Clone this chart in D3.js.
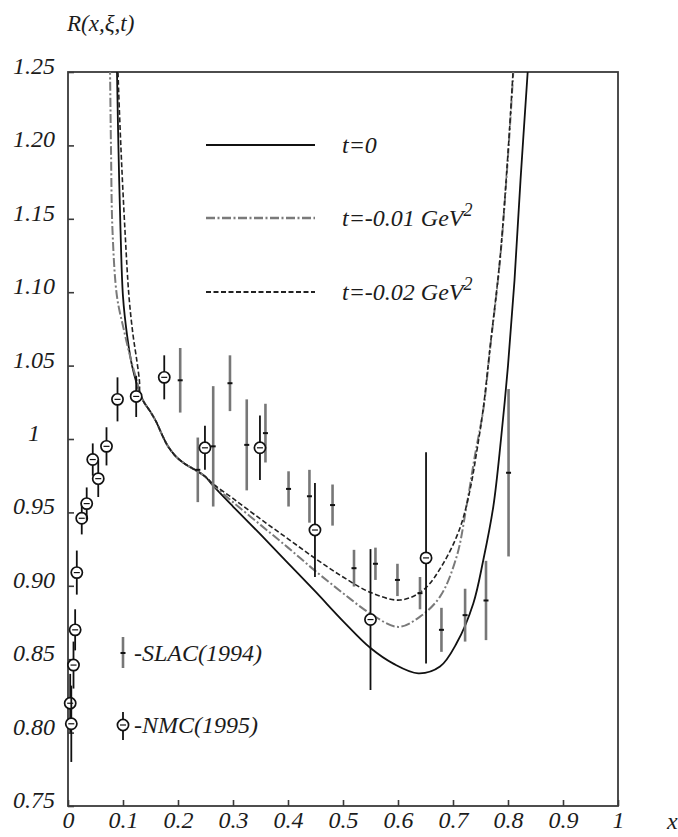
<!DOCTYPE html>
<html>
<head>
<meta charset="utf-8">
<script src="https://cdn.jsdelivr.net/npm/d3@7"></script>
<style>
  html, body { margin: 0; padding: 0; background: #fff; }
  text { font-family: "Liberation Serif", "DejaVu Serif", serif; font-style: italic; fill: #1c1c1c; }
</style>
</head>
<body>
<svg id="chart" width="678" height="837"></svg>
<script>
// ---- axis ticks ----
const xTicks = [0, 0.1, 0.2, 0.3, 0.4, 0.5, 0.6, 0.7, 0.8, 0.9, 1];
const xTickLabels = ["0", "0.1", "0.2", "0.3", "0.4", "0.5", "0.6", "0.7", "0.8", "0.9", "1"];
const yTicks = [0.75, 0.80, 0.85, 0.90, 0.95, 1.00, 1.05, 1.10, 1.15, 1.20, 1.25];
const yTickLabels = ["0.75", "0.80", "0.85", "0.90", "0.95", "1", "1.05", "1.10", "1.15", "1.20", "1.25"];

// ---- SLAC (1994) data: x, ratio, error ----
const slacX   = [0.204, 0.236, 0.264, 0.2945, 0.325, 0.359, 0.401, 0.439, 0.481, 0.520, 0.559, 0.599, 0.640, 0.679, 0.722, 0.760, 0.801];
const slacR   = [1.040, 0.979, 0.995, 1.038, 0.996, 1.004, 0.966, 0.961, 0.955, 0.912, 0.915, 0.904, 0.895, 0.870, 0.880, 0.890, 0.977];
const slacErr = [0.022, 0.022, 0.041, 0.019, 0.031, 0.020, 0.012, 0.018, 0.014, 0.0125, 0.011, 0.011, 0.011, 0.015, 0.018, 0.027, 0.057];

// ---- NMC (1995) data: x, ratio, error ----
const nmcX   = [0.004, 0.006, 0.010, 0.013, 0.016, 0.025, 0.034, 0.045, 0.055, 0.070, 0.090, 0.124, 0.175, 0.249, 0.349, 0.449, 0.550, 0.651];
const nmcR   = [0.820, 0.806, 0.846, 0.870, 0.909, 0.946, 0.956, 0.986, 0.973, 0.995, 1.027, 1.029, 1.042, 0.994, 0.994, 0.938, 0.877, 0.919];
const nmcErr = [0.020, 0.026, 0.016, 0.014, 0.015, 0.011, 0.011, 0.011, 0.0125, 0.013, 0.015, 0.014, 0.015, 0.015, 0.022, 0.032, 0.048, 0.072];

// ---- model curves R(x, xi, t) ----
const curveT0 = [
  [0.0887, 1.265], [0.0891, 1.250], [0.0918, 1.197], [0.0955, 1.142], [0.1000, 1.097],
  [0.1073, 1.071], [0.1164, 1.050], [0.1255, 1.037],
  [0.1309, 1.031], [0.1382, 1.025], [0.1491, 1.019], [0.1600, 1.012], [0.1709, 1.003],
  [0.1818, 0.995], [0.1964, 0.988], [0.2127, 0.983], [0.2309, 0.979], [0.2491, 0.9745],
  [0.2642, 0.968], [0.30, 0.954], [0.35, 0.935], [0.40, 0.9155], [0.45, 0.896], [0.50, 0.876],
  [0.55, 0.8576], [0.5915, 0.847], [0.6369, 0.8404], [0.6764, 0.845], [0.7067, 0.861],
  [0.7369, 0.888], [0.7551, 0.9176], [0.7733, 0.954], [0.7873, 1.000], [0.800, 1.050],
  [0.8118, 1.108], [0.8227, 1.176], [0.8358, 1.250], [0.8382, 1.265]
];
const curveT001 = [
  [0.0755, 1.265], [0.0764, 1.250], [0.0782, 1.197], [0.0809, 1.142], [0.0891, 1.097],
  [0.1018, 1.074], [0.1145, 1.054], [0.1255, 1.039],
  [0.1309, 1.031], [0.1382, 1.025], [0.1491, 1.019], [0.1600, 1.012], [0.1709, 1.003],
  [0.1818, 0.995], [0.1964, 0.988], [0.2127, 0.983], [0.2309, 0.979], [0.2491, 0.9745],
  [0.2642, 0.9687], [0.30, 0.957], [0.35, 0.9415], [0.40, 0.926], [0.45, 0.910], [0.50, 0.895],
  [0.55, 0.881], [0.6005, 0.872], [0.640, 0.879], [0.6764, 0.8926], [0.7067, 0.920],
  [0.7249, 0.955], [0.740, 0.989], [0.7551, 1.020], [0.7673, 1.061], [0.7855, 1.122],
  [0.7982, 1.183], [0.8096, 1.250], [0.8118, 1.265]
];
const curveT002 = [
  [0.0900, 1.265], [0.0909, 1.250], [0.0964, 1.197], [0.1036, 1.142], [0.1109, 1.097],
  [0.1182, 1.071], [0.1255, 1.0525], [0.1300, 1.039],
  [0.1309, 1.031], [0.1382, 1.025], [0.1491, 1.019], [0.1600, 1.012], [0.1709, 1.003],
  [0.1818, 0.995], [0.1964, 0.988], [0.2127, 0.983], [0.2309, 0.979], [0.2491, 0.9745],
  [0.2642, 0.9693], [0.30, 0.9595], [0.35, 0.9455], [0.40, 0.932], [0.45, 0.9185], [0.50, 0.906],
  [0.55, 0.8955], [0.6036, 0.8903], [0.646, 0.8971], [0.6824, 0.9153], [0.7127, 0.9394],
  [0.7309, 0.9653], [0.7436, 0.9925], [0.7551, 1.021], [0.7673, 1.062], [0.7855, 1.123],
  [0.7982, 1.185], [0.8091, 1.250], [0.8109, 1.265]
];

const legendLabels = ["t=0", "t=-0.01 GeV", "t=-0.02 GeV"];
const legendSup = ["", "2", "2"];

// ---- layout ----
const W = 678, H = 837;
const plot = { left: 68, right: 618, top: 72, bottom: 806 };

const svg = d3.select("#chart");
svg.append("rect").attr("width", W).attr("height", H).attr("fill", "#fff");

const x = d3.scaleLinear().domain([0, 1]).range([plot.left, plot.right]);
const y = d3.scaleLinear().domain([0.75, 1.25]).range([plot.bottom, plot.top]);

svg.append("defs").append("clipPath").attr("id", "plotClip")
  .append("rect").attr("x", plot.left).attr("y", plot.top)
  .attr("width", plot.right - plot.left).attr("height", plot.bottom - plot.top);

// axes with inward ticks
const xAxis = d3.axisBottom(x).tickValues(xTicks).tickFormat((d, i) => xTickLabels[i])
  .tickSizeInner(-6).tickSizeOuter(0);
const yAxis = d3.axisLeft(y).tickValues(yTicks).tickFormat((d, i) => yTickLabels[i])
  .tickSizeInner(-6).tickSizeOuter(0);

const gx = svg.append("g").attr("transform", `translate(0,${plot.bottom})`).call(xAxis);
const gy = svg.append("g").attr("transform", `translate(${plot.left},0)`).call(yAxis);
[gx, gy].forEach(g => {
  g.select(".domain").remove();
  g.selectAll(".tick line").attr("stroke", "#3a3a3a").attr("stroke-width", 1.6);
  g.selectAll(".tick text").attr("font-family", null).attr("font-size", 24).attr("fill", "#1c1c1c");
});
gx.selectAll(".tick text").attr("y", 14).attr("dy", "0.35em").attr("text-anchor", "middle");
gy.selectAll(".tick text").attr("x", -34).attr("y", -7).attr("dy", "0.35em").attr("text-anchor", "middle");

// frame
svg.append("rect")
  .attr("x", plot.left).attr("y", plot.top)
  .attr("width", plot.right - plot.left).attr("height", plot.bottom - plot.top)
  .attr("fill", "none").attr("stroke", "#3a3a3a").attr("stroke-width", 1.8);

// titles
svg.append("text").attr("x", 67).attr("y", 31).attr("font-size", 23).text("R(x,ξ,t)");
svg.append("text").attr("x", 667).attr("y", 829).attr("font-size", 24).text("x");

// curves
const line = d3.line().x(d => x(d[0])).y(d => y(d[1])).curve(d3.curveCatmullRom.alpha(0.5));
const styles = [
  { data: curveT0,   stroke: "#111", width: 1.8, dash: null },
  { data: curveT001, stroke: "#7a7a7a", width: 2.0, dash: "9,2.5,2,2.5" },
  { data: curveT002, stroke: "#222", width: 1.6, dash: "5,2.5" }
];
const gCurves = svg.append("g").attr("clip-path", "url(#plotClip)");
styles.forEach(s => {
  gCurves.append("path").attr("d", line(s.data))
    .attr("fill", "none").attr("stroke", s.stroke).attr("stroke-width", s.width)
    .attr("stroke-dasharray", s.dash);
});

// curve legend
const legY = [145, 218, 292];
styles.forEach((s, i) => {
  svg.append("line").attr("x1", 206).attr("x2", 315).attr("y1", legY[i]).attr("y2", legY[i])
    .attr("stroke", s.stroke).attr("stroke-width", s.width + 0.3).attr("stroke-dasharray", s.dash);
  const t = svg.append("text").attr("x", 342).attr("y", legY[i] + 8).attr("font-size", 24);
  t.append("tspan").text(legendLabels[i]);
  if (legendSup[i]) t.append("tspan").attr("dy", -10).attr("font-size", 18).text(legendSup[i]);
});

// SLAC markers
function slacMarker(g, cx, cy, top, bot) {
  g.append("line").attr("x1", cx).attr("x2", cx).attr("y1", top).attr("y2", bot)
    .attr("stroke", "#777").attr("stroke-width", 2.6);
  g.append("line").attr("x1", cx - 2.5).attr("x2", cx + 2.5).attr("y1", cy).attr("y2", cy)
    .attr("stroke", "#111").attr("stroke-width", 2);
}
// NMC markers
function nmcMarker(g, cx, cy, top, bot) {
  g.append("line").attr("x1", cx).attr("x2", cx).attr("y1", top).attr("y2", bot)
    .attr("stroke", "#111").attr("stroke-width", 1.8);
  g.append("circle").attr("cx", cx).attr("cy", cy).attr("r", 5.6)
    .attr("fill", "#fff").attr("stroke", "#111").attr("stroke-width", 1.7);
  g.append("line").attr("x1", cx - 3).attr("x2", cx + 3).attr("y1", cy).attr("y2", cy)
    .attr("stroke", "#111").attr("stroke-width", 1.2);
}

const gData = svg.append("g");
slacX.forEach((xv, i) => slacMarker(gData, x(xv), y(slacR[i]), y(slacR[i] + slacErr[i]), y(slacR[i] - slacErr[i])));
nmcX.forEach((xv, i) => nmcMarker(gData, x(xv), y(nmcR[i]), y(nmcR[i] + nmcErr[i]), y(nmcR[i] - nmcErr[i])));

// data legend
slacMarker(svg, 123, 653, 637, 668);
svg.append("text").attr("x", 134).attr("y", 661).attr("font-size", 24).text("-SLAC(1994)");
nmcMarker(svg, 123, 725, 712, 740);
svg.append("text").attr("x", 134).attr("y", 733).attr("font-size", 24).text("-NMC(1995)");
</script>
</body>
</html>
